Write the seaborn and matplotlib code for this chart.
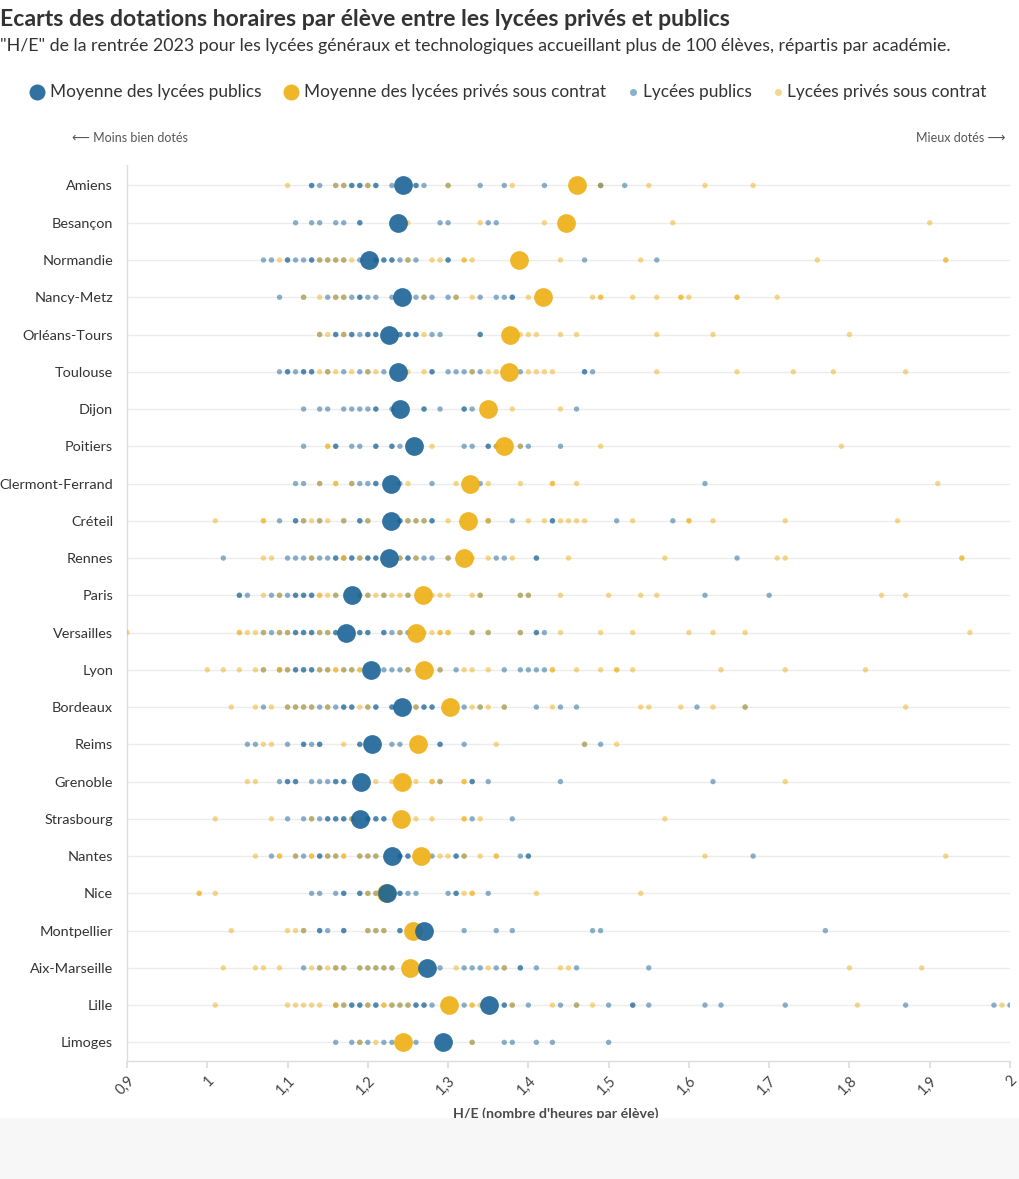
import matplotlib
matplotlib.use("Agg")
import matplotlib.pyplot as plt
from matplotlib.lines import Line2D
from matplotlib.patches import Rectangle
import numpy as np
import pandas as pd
import seaborn as sns

# ---------------- data ----------------
academies = ["Amiens", "Besançon", "Normandie", "Nancy-Metz", "Orléans-Tours", "Toulouse",
             "Dijon", "Poitiers", "Clermont-Ferrand", "Créteil", "Rennes", "Paris",
             "Versailles", "Lyon", "Bordeaux", "Reims", "Grenoble", "Strasbourg",
             "Nantes", "Nice", "Montpellier", "Aix-Marseille", "Lille", "Limoges"]

mean_public = [1.244, 1.238, 1.201, 1.243, 1.226, 1.238, 1.240, 1.258, 1.229, 1.229, 1.226, 1.180,
               1.173, 1.204, 1.243, 1.205, 1.192, 1.190, 1.230, 1.224, 1.270, 1.274, 1.351, 1.294]
mean_private = [1.461, 1.447, 1.388, 1.418, 1.377, 1.376, 1.350, 1.370, 1.327, 1.325, 1.320, 1.269,
                1.260, 1.270, 1.302, 1.263, 1.243, 1.241, 1.266, 1.223, 1.256, 1.253, 1.301, 1.244]

pub_amiens = [1.13, 1.13, 1.14, 1.16, 1.17, 1.18, 1.18, 1.19, 1.19, 1.20, 1.21, 1.21, 1.23, 1.26, 1.26, 1.27, 1.30, 1.34, 1.37, 1.42, 1.49, 1.49, 1.52]
priv_amiens = [1.10, 1.16, 1.17, 1.20, 1.30, 1.38, 1.49, 1.55, 1.62, 1.68]
pub_besancon = [1.11, 1.13, 1.14, 1.16, 1.17, 1.19, 1.19, 1.29, 1.30, 1.35, 1.36]
priv_besancon = [1.25, 1.34, 1.42, 1.58, 1.90]
pub_normandie = [1.07, 1.08, 1.10, 1.10, 1.11, 1.12, 1.13, 1.13, 1.14, 1.15, 1.16, 1.17, 1.19, 1.21, 1.21, 1.22, 1.22, 1.23, 1.23, 1.24, 1.25, 1.26, 1.30, 1.30, 1.47, 1.56]
priv_normandie = [1.09, 1.14, 1.15, 1.16, 1.17, 1.18, 1.25, 1.28, 1.29, 1.32, 1.32, 1.33, 1.44, 1.54, 1.76, 1.92, 1.92]
pub_nancy = [1.09, 1.12, 1.15, 1.16, 1.17, 1.18, 1.19, 1.19, 1.20, 1.21, 1.23, 1.26, 1.27, 1.28, 1.30, 1.31, 1.34, 1.36, 1.37, 1.38, 1.38]
priv_nancy = [1.12, 1.14, 1.16, 1.17, 1.27, 1.31, 1.33, 1.40, 1.48, 1.49, 1.49, 1.53, 1.56, 1.59, 1.59, 1.60, 1.66, 1.66, 1.71]
pub_orleans = [1.14, 1.16, 1.16, 1.17, 1.18, 1.18, 1.19, 1.20, 1.20, 1.21, 1.21, 1.24, 1.24, 1.25, 1.25, 1.26, 1.26, 1.28, 1.29, 1.34, 1.34]
priv_orleans = [1.14, 1.15, 1.17, 1.27, 1.39, 1.40, 1.41, 1.44, 1.46, 1.56, 1.63, 1.80]
pub_toulouse = [1.09, 1.10, 1.10, 1.11, 1.12, 1.12, 1.13, 1.13, 1.15, 1.17, 1.19, 1.20, 1.22, 1.28, 1.28, 1.30, 1.31, 1.32, 1.33, 1.34, 1.39, 1.47, 1.47, 1.48]
priv_toulouse = [1.14, 1.15, 1.16, 1.18, 1.20, 1.21, 1.25, 1.27, 1.33, 1.35, 1.36, 1.40, 1.41, 1.42, 1.43, 1.56, 1.66, 1.73, 1.78, 1.87]
pub_dijon = [1.12, 1.14, 1.15, 1.17, 1.18, 1.19, 1.20, 1.21, 1.21, 1.23, 1.27, 1.27, 1.29, 1.32, 1.32, 1.33, 1.46]
priv_dijon = [1.38, 1.44]
pub_poitiers = [1.12, 1.16, 1.16, 1.18, 1.19, 1.21, 1.21, 1.23, 1.23, 1.24, 1.32, 1.33, 1.35, 1.35, 1.36, 1.39, 1.40, 1.44]
priv_poitiers = [1.15, 1.15, 1.28, 1.36, 1.39, 1.49, 1.79]
pub_clermont = [1.11, 1.12, 1.14, 1.18, 1.19, 1.20, 1.21, 1.21, 1.24, 1.28, 1.34, 1.62]
priv_clermont = [1.14, 1.16, 1.16, 1.18, 1.25, 1.31, 1.35, 1.39, 1.43, 1.43, 1.46, 1.91]
pub_creteil = [1.09, 1.11, 1.11, 1.12, 1.14, 1.17, 1.19, 1.19, 1.20, 1.24, 1.24, 1.25, 1.26, 1.27, 1.28, 1.28, 1.35, 1.38, 1.43, 1.43, 1.51, 1.58]
priv_creteil = [1.01, 1.07, 1.07, 1.12, 1.13, 1.14, 1.15, 1.17, 1.20, 1.25, 1.26, 1.27, 1.30, 1.35, 1.35, 1.40, 1.42, 1.44, 1.45, 1.46, 1.47, 1.53, 1.60, 1.60, 1.63, 1.72, 1.86]
pub_rennes = [1.02, 1.10, 1.11, 1.12, 1.13, 1.14, 1.15, 1.16, 1.16, 1.17, 1.18, 1.18, 1.19, 1.20, 1.20, 1.21, 1.21, 1.24, 1.25, 1.25, 1.26, 1.27, 1.28, 1.30, 1.36, 1.37, 1.41, 1.41, 1.66]
priv_rennes = [1.07, 1.08, 1.13, 1.17, 1.17, 1.19, 1.24, 1.26, 1.30, 1.33, 1.35, 1.38, 1.45, 1.57, 1.71, 1.72, 1.94, 1.94]
pub_paris = [1.04, 1.04, 1.05, 1.08, 1.09, 1.10, 1.11, 1.11, 1.12, 1.12, 1.13, 1.13, 1.16, 1.19, 1.20, 1.22, 1.25, 1.34, 1.39, 1.40, 1.62, 1.70]
priv_paris = [1.07, 1.09, 1.14, 1.14, 1.15, 1.16, 1.19, 1.20, 1.21, 1.22, 1.23, 1.24, 1.25, 1.28, 1.29, 1.30, 1.33, 1.34, 1.39, 1.40, 1.44, 1.50, 1.54, 1.56, 1.84, 1.87]
pub_versailles = [1.07, 1.08, 1.09, 1.10, 1.11, 1.11, 1.12, 1.12, 1.13, 1.13, 1.14, 1.15, 1.16, 1.16, 1.19, 1.19, 1.20, 1.20, 1.22, 1.22, 1.23, 1.24, 1.25, 1.33, 1.35, 1.39, 1.41, 1.41, 1.42]
priv_versailles = [0.90, 1.04, 1.04, 1.05, 1.06, 1.07, 1.09, 1.10, 1.14, 1.15, 1.24, 1.27, 1.28, 1.29, 1.29, 1.30, 1.30, 1.33, 1.35, 1.39, 1.44, 1.49, 1.53, 1.60, 1.63, 1.67, 1.95]
pub_lyon = [1.07, 1.09, 1.10, 1.11, 1.11, 1.12, 1.12, 1.13, 1.13, 1.14, 1.15, 1.17, 1.18, 1.22, 1.23, 1.24, 1.25, 1.29, 1.31, 1.37, 1.39, 1.40, 1.41, 1.42]
priv_lyon = [1.00, 1.02, 1.04, 1.06, 1.07, 1.09, 1.09, 1.10, 1.14, 1.15, 1.16, 1.16, 1.17, 1.18, 1.19, 1.19, 1.25, 1.29, 1.32, 1.33, 1.35, 1.43, 1.43, 1.46, 1.49, 1.51, 1.51, 1.53, 1.64, 1.72, 1.82]
pub_bordeaux = [1.07, 1.10, 1.11, 1.12, 1.13, 1.14, 1.15, 1.16, 1.17, 1.17, 1.18, 1.18, 1.20, 1.21, 1.21, 1.23, 1.23, 1.26, 1.27, 1.27, 1.28, 1.28, 1.32, 1.34, 1.37, 1.41, 1.44, 1.46, 1.61, 1.67]
priv_bordeaux = [1.03, 1.06, 1.08, 1.10, 1.11, 1.12, 1.13, 1.15, 1.19, 1.20, 1.26, 1.33, 1.34, 1.35, 1.37, 1.43, 1.54, 1.55, 1.59, 1.63, 1.67, 1.87]
pub_reims = [1.05, 1.06, 1.10, 1.12, 1.12, 1.13, 1.14, 1.14, 1.19, 1.19, 1.23, 1.24, 1.29, 1.29, 1.32, 1.47, 1.49]
priv_reims = [1.07, 1.08, 1.17, 1.36, 1.47, 1.51]
pub_grenoble = [1.09, 1.10, 1.10, 1.11, 1.11, 1.13, 1.14, 1.15, 1.16, 1.16, 1.17, 1.17, 1.29, 1.33, 1.33, 1.35, 1.44, 1.63]
priv_grenoble = [1.05, 1.06, 1.21, 1.23, 1.26, 1.28, 1.28, 1.29, 1.32, 1.32, 1.72]
pub_strasbourg = [1.10, 1.12, 1.13, 1.14, 1.15, 1.15, 1.16, 1.16, 1.17, 1.17, 1.18, 1.20, 1.20, 1.21, 1.21, 1.22, 1.22, 1.33, 1.38]
priv_strasbourg = [1.01, 1.08, 1.13, 1.18, 1.26, 1.28, 1.32, 1.32, 1.34, 1.57]
pub_nantes = [1.08, 1.11, 1.12, 1.14, 1.14, 1.15, 1.16, 1.19, 1.20, 1.21, 1.24, 1.24, 1.25, 1.25, 1.28, 1.31, 1.31, 1.32, 1.39, 1.40, 1.40, 1.68]
priv_nantes = [1.06, 1.09, 1.09, 1.11, 1.13, 1.13, 1.15, 1.16, 1.17, 1.17, 1.19, 1.20, 1.21, 1.29, 1.30, 1.32, 1.34, 1.36, 1.36, 1.62, 1.92]
pub_nice = [1.13, 1.14, 1.16, 1.17, 1.17, 1.19, 1.19, 1.20, 1.21, 1.24, 1.24, 1.25, 1.26, 1.30, 1.31, 1.31, 1.35]
priv_nice = [0.99, 0.99, 1.01, 1.20, 1.21, 1.32, 1.33, 1.33, 1.41, 1.54]
pub_montpellier = [1.12, 1.14, 1.14, 1.15, 1.17, 1.17, 1.20, 1.21, 1.22, 1.24, 1.24, 1.32, 1.36, 1.38, 1.48, 1.49, 1.77]
priv_montpellier = [1.03, 1.10, 1.11, 1.12, 1.20, 1.21, 1.22]
pub_aix = [1.12, 1.14, 1.16, 1.17, 1.19, 1.20, 1.21, 1.22, 1.23, 1.29, 1.32, 1.33, 1.34, 1.36, 1.37, 1.39, 1.39, 1.41, 1.46, 1.55]
priv_aix = [1.02, 1.06, 1.07, 1.09, 1.13, 1.14, 1.15, 1.16, 1.17, 1.19, 1.20, 1.21, 1.22, 1.23, 1.31, 1.35, 1.37, 1.44, 1.45, 1.80, 1.89]
pub_lille = [1.16, 1.17, 1.18, 1.18, 1.19, 1.19, 1.20, 1.21, 1.21, 1.23, 1.24, 1.25, 1.26, 1.26, 1.27, 1.27, 1.28, 1.32, 1.37, 1.37, 1.38, 1.40, 1.44, 1.46, 1.50, 1.53, 1.53, 1.55, 1.62, 1.64, 1.72, 1.87, 1.98, 2.00]
priv_lille = [1.01, 1.10, 1.11, 1.12, 1.13, 1.14, 1.16, 1.16, 1.17, 1.20, 1.22, 1.22, 1.23, 1.24, 1.25, 1.33, 1.33, 1.34, 1.38, 1.43, 1.46, 1.48, 1.81, 1.99]
pub_limoges = [1.16, 1.18, 1.19, 1.20, 1.22, 1.23, 1.26, 1.33, 1.37, 1.38, 1.41, 1.43, 1.50]
priv_limoges = [1.19, 1.21, 1.33]

public_lists = [pub_amiens, pub_besancon, pub_normandie, pub_nancy, pub_orleans, pub_toulouse,
                pub_dijon, pub_poitiers, pub_clermont, pub_creteil, pub_rennes, pub_paris,
                pub_versailles, pub_lyon, pub_bordeaux, pub_reims, pub_grenoble, pub_strasbourg,
                pub_nantes, pub_nice, pub_montpellier, pub_aix, pub_lille, pub_limoges]
private_lists = [priv_amiens, priv_besancon, priv_normandie, priv_nancy, priv_orleans, priv_toulouse,
                 priv_dijon, priv_poitiers, priv_clermont, priv_creteil, priv_rennes, priv_paris,
                 priv_versailles, priv_lyon, priv_bordeaux, priv_reims, priv_grenoble, priv_strasbourg,
                 priv_nantes, priv_nice, priv_montpellier, priv_aix, priv_lille, priv_limoges]

x_ticks = [0.9, 1.0, 1.1, 1.2, 1.3, 1.4, 1.5, 1.6, 1.7, 1.8, 1.9, 2.0]
x_tick_labels = ["0,9", "1", "1,1", "1,2", "1,3", "1,4", "1,5", "1,6", "1,7", "1,8", "1,9", "2"]

LAB_PUB = "Lycées publics"
LAB_PRIV = "Lycées privés sous contrat"

rows = []
for a, pub, priv in zip(academies, public_lists, private_lists):
    for v in pub:
        rows.append((a, v, LAB_PUB))
    for v in priv:
        rows.append((a, v, LAB_PRIV))
df = pd.DataFrame(rows, columns=["academie", "he", "type"])
df_mpub = pd.DataFrame({"academie": academies, "he": mean_public})
df_mpriv = pd.DataFrame({"academie": academies, "he": mean_private})

# ---------------- style ----------------
BLUE = "#1a6396"
YELLOW = "#efb016"
TXT = "#333333"

sns.set_theme(style="white")
plt.rcParams["font.family"] = ["Lato", "DejaVu Sans"]

W, H = 1020, 1179
fig = plt.figure(figsize=(W / 100, H / 100), dpi=100)
fig.patch.set_facecolor("white")


def fx(px):
    return px / W


def fy(py):
    return 1 - py / H


ax = fig.add_axes([fx(127), fy(1061), fx(1010) - fx(127), fy(165) - fy(1061)])

sns.stripplot(data=df, x="he", y="academie", hue="type", order=academies,
              hue_order=[LAB_PUB, LAB_PRIV], palette={LAB_PUB: BLUE, LAB_PRIV: YELLOW},
              jitter=False, dodge=False, size=3.9, alpha=0.5, linewidth=0,
              legend=False, ax=ax, zorder=3)
sns.stripplot(data=df_mpriv, x="he", y="academie", order=academies, color=YELLOW,
              jitter=False, size=13.5, alpha=0.92, linewidth=0, ax=ax, zorder=4)
sns.stripplot(data=df_mpub, x="he", y="academie", order=academies, color=BLUE,
              jitter=False, size=13.5, alpha=0.9, linewidth=0, ax=ax, zorder=5)

ax.set_xlim(0.9, 2.0)
ax.set_ylim(23.5, -0.55)
ax.set_xlabel("")
ax.set_ylabel("")
ax.set_xticks(x_ticks)
ax.set_xticklabels(x_tick_labels, rotation=45, ha="right", rotation_mode="anchor",
                   fontsize=10.5, color="#444444")
ax.tick_params(axis="x", length=5, color="#dddddd", pad=4, bottom=True)
ax.tick_params(axis="y", length=0, pad=10, labelsize=10.4, labelcolor=TXT)
ax.grid(axis="y", color="#ececec", linewidth=1)
ax.grid(axis="x", visible=False)
ax.set_axisbelow(True)
for s in ["top", "right"]:
    ax.spines[s].set_visible(False)
for s in ["left", "bottom"]:
    ax.spines[s].set_color("#dddddd")
    ax.spines[s].set_linewidth(1)

# ---------------- titles ----------------
fig.text(fx(0), fy(20), "Ecarts des dotations horaires par élève entre les lycées privés et publics",
         fontsize=16.6, fontweight="bold", color=TXT, ha="left", va="center")
fig.text(fx(0), fy(46), "\"H/E\" de la rentrée 2023 pour les lycées généraux et technologiques accueillant plus de 100 élèves, répartis par académie.",
         fontsize=12.8, color=TXT, ha="left", va="center")

# ---------------- legend ----------------
leg_items = [(37, 16, BLUE, 0.9, "Moyenne des lycées publics", 50),
             (291, 16, YELLOW, 0.92, "Moyenne des lycées privés sous contrat", 304),
             (633, 7, BLUE, 0.5, "Lycées publics", 643),
             (778, 7, YELLOW, 0.5, "Lycées privés sous contrat", 787)]
for cx, d, col, al, lab, tx in leg_items:
    fig.add_artist(Line2D([fx(cx)], [fy(92)], marker="o", markersize=d * 0.72, color=col,
                          alpha=al, markeredgewidth=0, linestyle="none", transform=fig.transFigure))
    fig.text(fx(tx), fy(92), lab, fontsize=12.4, color=TXT, ha="left", va="center")

fig.text(fx(72), fy(138), "⟵ Moins bien dotés", fontsize=9, color="#555555", ha="left", va="center")
fig.text(fx(1005), fy(138), "Mieux dotés ⟶", fontsize=9, color="#555555", ha="right", va="center")

# x-axis title (partly hidden by the footer band, as in the reference)
fig.text(fx(556), fy(1114), "H/E (nombre d'heures par élève)", fontsize=10.3, fontweight="bold",
         color="#4a4a4a", ha="center", va="center", zorder=3)
fig.add_artist(Rectangle((0, 0), 1, fy(1118), transform=fig.transFigure,
                         facecolor="#f7f7f7", edgecolor="none", zorder=10))

fig.savefig("out.png", dpi=100, facecolor="white")
